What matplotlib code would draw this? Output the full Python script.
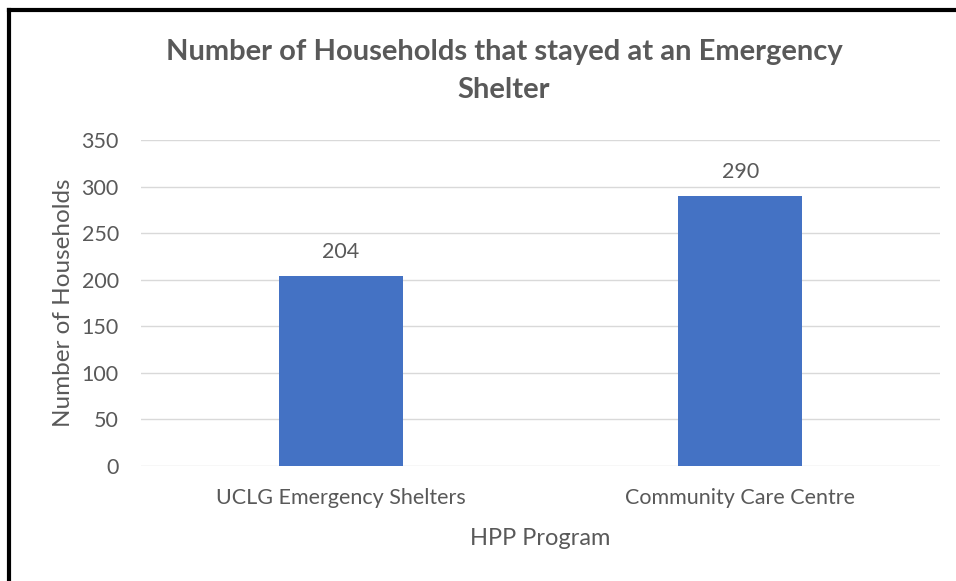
import matplotlib.pyplot as plt
from matplotlib.lines import Line2D

categories = ["UCLG Emergency Shelters", "Community Care Centre"]
households = [204, 290]
yticks = [0, 50, 100, 150, 200, 250, 300, 350]

plt.rcParams["font.family"] = ["Lato", "DejaVu Sans"]
text_color = "#595959"

fig = plt.figure(figsize=(9.56, 5.81), dpi=100)
ax = fig.add_axes([141 / 956, 1 - 466 / 581, 799 / 956, 326 / 581])

x = range(len(categories))
bars = ax.bar(x, households, width=0.31, color="#4472C4", zorder=3)
for b, v in zip(bars, households):
    ax.annotate(str(v), (b.get_x() + b.get_width() / 2, v), xytext=(0, 10),
                textcoords="offset points", ha="center", va="bottom",
                fontsize=15.5, color=text_color)

ax.set_xlim(-0.5, 1.5)
ax.set_ylim(0, 350)
ax.set_yticks(yticks)
ax.set_xticks(list(x))
ax.set_xticklabels(categories)
ax.tick_params(axis="both", length=0, labelsize=15.5, colors=text_color)
ax.tick_params(axis="y", pad=16)
ax.tick_params(axis="x", pad=16)
ax.yaxis.grid(True, color="#d9d9d9", linewidth=1, zorder=0)
for s in ax.spines.values():
    s.set_visible(False)

ax.set_xlabel("HPP Program", fontsize=17, color=text_color, labelpad=14)
ax.set_ylabel("Number of Households", fontsize=17.5, color=text_color, labelpad=5)

fig.text(504 / 956, 1 - 71 / 581, "Number of Households that stayed at an Emergency\nShelter",
         ha="center", va="center", fontsize=21, fontweight="bold", color=text_color,
         linespacing=1.6)

# black frame lines on top and left edge
fig.add_artist(Line2D([9 / 956, 1], [1 - 10 / 581, 1 - 10 / 581], color="black", linewidth=3))
fig.add_artist(Line2D([9 / 956, 9 / 956], [0, 1 - 10 / 581], color="black", linewidth=3))

fig.savefig("out.png", dpi=100)
